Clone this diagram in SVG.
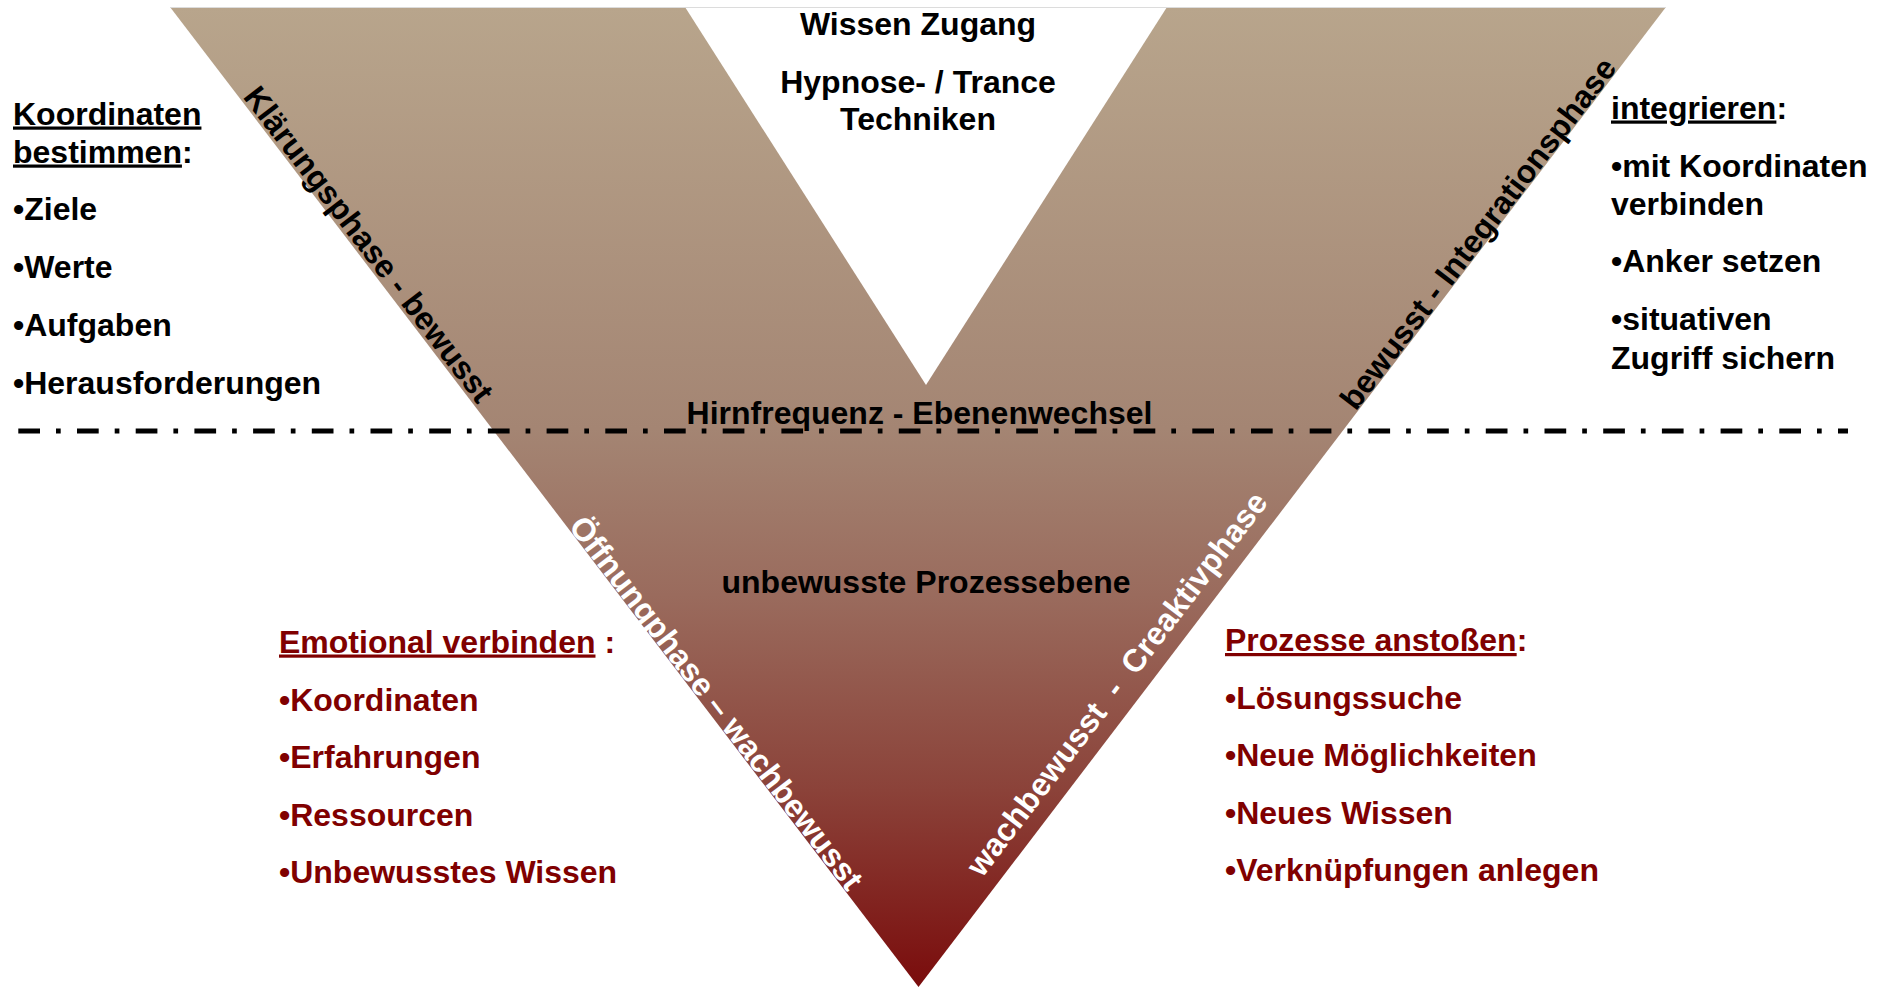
<svg xmlns="http://www.w3.org/2000/svg" width="1887" height="989" viewBox="0 0 1887 989">
  <style>
    .t { font-family: "Liberation Sans", Arial, sans-serif; font-weight: bold; font-size: 32px; }
    .blk { fill: #000000; }
    .red { fill: #800000; }
    .wht { fill: #ffffff; }
    .mid { text-anchor: middle; }
    .u { text-decoration: underline; }
  </style>
  <defs>
    <linearGradient id="vgrad" x1="0" y1="7" x2="0" y2="987" gradientUnits="userSpaceOnUse">
      <stop offset="0" stop-color="#b8a58c"/>
      <stop offset="0.43" stop-color="#a48573"/>
      <stop offset="0.6" stop-color="#9a6b5d"/>
      <stop offset="0.8" stop-color="#8b4239"/>
      <stop offset="1" stop-color="#7a0c0c"/>
    </linearGradient>
  </defs>
  <rect width="1887" height="989" fill="#ffffff"/>

  <g id="v-shape">
    <polygon points="170,7 1666,7 918.5,987" fill="url(#vgrad)"/>
    <polygon points="685,7 1167,7 926,385" fill="#ffffff"/>
    <line x1="170" y1="7.5" x2="1666" y2="7.5" stroke="#dcdcdc" stroke-width="1"/>
  </g>

  <g id="top-center" class="t blk mid">
    <text x="918" y="34.5">Wissen Zugang</text>
    <text x="918" y="92.5">Hypnose- / Trance</text>
    <text x="918" y="130">Techniken</text>
  </g>

  <g id="level-label" class="t blk mid">
    <text x="919.5" y="423.5">Hirnfrequenz - Ebenenwechsel</text>
  </g>

  <g id="connectors">
    <line x1="18.3" y1="431" x2="1848" y2="431" stroke="#000000" stroke-width="5" stroke-dasharray="21.7 16 4.7 16.3"/>
  </g>

  <g id="unconscious-label" class="t blk mid">
    <text x="926" y="592.5">unbewusste Prozessebene</text>
  </g>

  <g id="phase-klaerung" class="t blk">
    <text class="mid" transform="translate(359.9,251) rotate(52.58)">Klärungsphase - bewusst</text>
  </g>
  <g id="phase-integration" class="t blk">
    <text class="mid" transform="translate(1486.8,240.1) rotate(-52.64)">bewusst - Integrationsphase</text>
  </g>
  <g id="phase-oeffnung" class="t wht">
    <text class="mid" transform="translate(707.6,709.5) rotate(52.58)">Öffnungphase – wachbewusst</text>
  </g>
  <g id="phase-kreativ" class="t wht">
    <text class="mid" xml:space="preserve" transform="translate(1125.5,690.5) rotate(-52.64)">wachbewusst  -  Creaktivphase</text>
  </g>

  <g id="koordinaten-bestimmen" class="t blk">
    <text x="13" y="124.5"><tspan class="u">Koordinaten</tspan></text>
    <text x="13" y="162.5"><tspan class="u">bestimmen</tspan>:</text>
    <text x="13" y="220">•Ziele</text>
    <text x="13" y="278">•Werte</text>
    <text x="13" y="336">•Aufgaben</text>
    <text x="13" y="394">•Herausforderungen</text>
  </g>

  <g id="integrieren" class="t blk">
    <text x="1611" y="118.5"><tspan class="u">integrieren</tspan>:</text>
    <text x="1611" y="176.5">•mit Koordinaten</text>
    <text x="1611" y="214.5">verbinden</text>
    <text x="1611" y="272">•Anker setzen</text>
    <text x="1611" y="330">•situativen</text>
    <text x="1611" y="368.5">Zugriff sichern</text>
  </g>

  <g id="emotional-verbinden" class="t red">
    <text x="279" y="652.5"><tspan class="u">Emotional verbinden</tspan> :</text>
    <text x="279" y="710.5">•Koordinaten</text>
    <text x="279" y="768">•Erfahrungen</text>
    <text x="279" y="825.5">•Ressourcen</text>
    <text x="279" y="883">•Unbewusstes Wissen</text>
  </g>

  <g id="prozesse-anstossen" class="t red">
    <text x="1225" y="651"><tspan class="u">Prozesse anstoßen</tspan>:</text>
    <text x="1225" y="708.5">•Lösungssuche</text>
    <text x="1225" y="765.5">•Neue Möglichkeiten</text>
    <text x="1225" y="823.5">•Neues Wissen</text>
    <text x="1225" y="881">•Verknüpfungen anlegen</text>
  </g>
</svg>
